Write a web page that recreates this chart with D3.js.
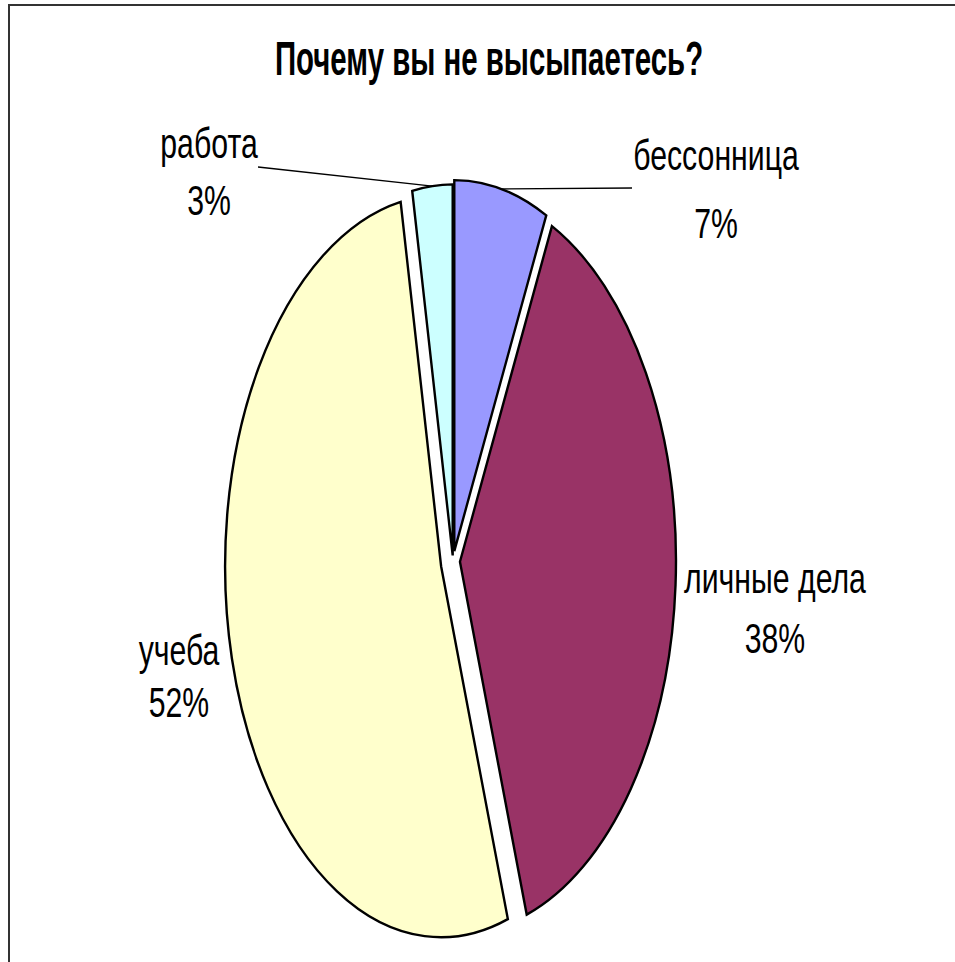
<!DOCTYPE html>
<html><head><meta charset="utf-8">
<script src="https://cdn.jsdelivr.net/npm/d3@7"></script>
<style>
html,body{margin:0;padding:0;background:#fff;}
svg{display:block;}
text{font-family:"Liberation Sans Narrow","Liberation Sans",Arial,sans-serif;fill:#000;}
</style></head>
<body>
<svg id="chart" width="955" height="962"></svg>
<script>
// ---- data ----
const title = "Почему вы не высыпаетесь?";
const categories = ["бессонница", "личные дела", "учеба", "работа"];
const values = [7, 38, 52, 3];
const percentLabels = ["7%", "38%", "52%", "3%"];
const colors = ["#9999FF", "#993366", "#FFFFCC", "#CCFFFF"];

// ---- layout ----
const W = 955, H = 962;
const cx = 453, cy = 561, rx = 216, ry = 371;
const explode = [10, 7, 13, 5.6];
// label anchor (centre x, baseline of first line) per category
const labelPos = [[716, 170], [775, 593], [179, 665], [209, 158]];
const lineGap = [68, 60, 52, 57];
const leaderLabelEnd = [[632, 188], null, null, [258, 167]];
const fontSize = 42, textScale = 0.72;

const svg = d3.select("#chart");

// frame (top and left rule)
svg.append("line").attr("x1", 8).attr("x2", W).attr("y1", 5).attr("y2", 5)
  .attr("stroke", "#333").attr("stroke-width", 2);
svg.append("line").attr("x1", 9).attr("x2", 9).attr("y1", 5).attr("y2", H)
  .attr("stroke", "#333").attr("stroke-width", 2);

// title
svg.append("text")
  .attr("transform", `translate(489,75) scale(0.6,1)`)
  .attr("text-anchor", "middle")
  .style("font-family", '"Liberation Sans",Arial,sans-serif')
  .style("font-weight", "bold").style("font-size", "49px")
  .text(title);

const pie = d3.pie().sort(null).startAngle(0).endAngle(2 * Math.PI);
const arcs = pie(values);
const arc = d3.arc().innerRadius(0).outerRadius(rx);
const sy = ry / rx;

function ellPoint(a, off) {
  return [cx + off[0] + rx * Math.sin(a), cy + off[1] - ry * Math.cos(a)];
}

const offsets = arcs.map((d, i) => {
  const m = (d.startAngle + d.endAngle) / 2;
  const vx = rx * Math.sin(m), vy = -ry * Math.cos(m);
  const len = Math.hypot(vx, vy);
  return [explode[i] * vx / len, explode[i] * vy / len];
});

svg.append("g").selectAll("path").data(arcs).join("path")
  .attr("transform", (d, i) => `translate(${cx + offsets[i][0]},${cy + offsets[i][1]}) scale(1,${sy})`)
  .attr("d", arc)
  .attr("fill", (d, i) => colors[i])
  .attr("stroke", "#000")
  .attr("stroke-width", 2.4)
  .attr("stroke-linejoin", "miter")
  .style("vector-effect", "non-scaling-stroke");

// leader lines
arcs.forEach((d, i) => {
  if (!leaderLabelEnd[i]) return;
  const m = (d.startAngle + d.endAngle) / 2;
  const p = ellPoint(m, offsets[i]);
  svg.append("line")
    .attr("x1", leaderLabelEnd[i][0]).attr("y1", leaderLabelEnd[i][1])
    .attr("x2", p[0]).attr("y2", p[1])
    .attr("stroke", "#000").attr("stroke-width", 1.3);
});

// labels
const lg = svg.append("g");
categories.forEach((c, i) => {
  const [x, y] = labelPos[i];
  lg.append("text")
    .attr("transform", `translate(${x},${y}) scale(${textScale},1)`)
    .attr("text-anchor", "middle").style("font-size", fontSize + "px")
    .text(c);
  lg.append("text")
    .attr("transform", `translate(${x},${y + lineGap[i]}) scale(${textScale},1)`)
    .attr("text-anchor", "middle").style("font-size", fontSize + "px")
    .text(percentLabels[i]);
});
</script>
</body></html>
